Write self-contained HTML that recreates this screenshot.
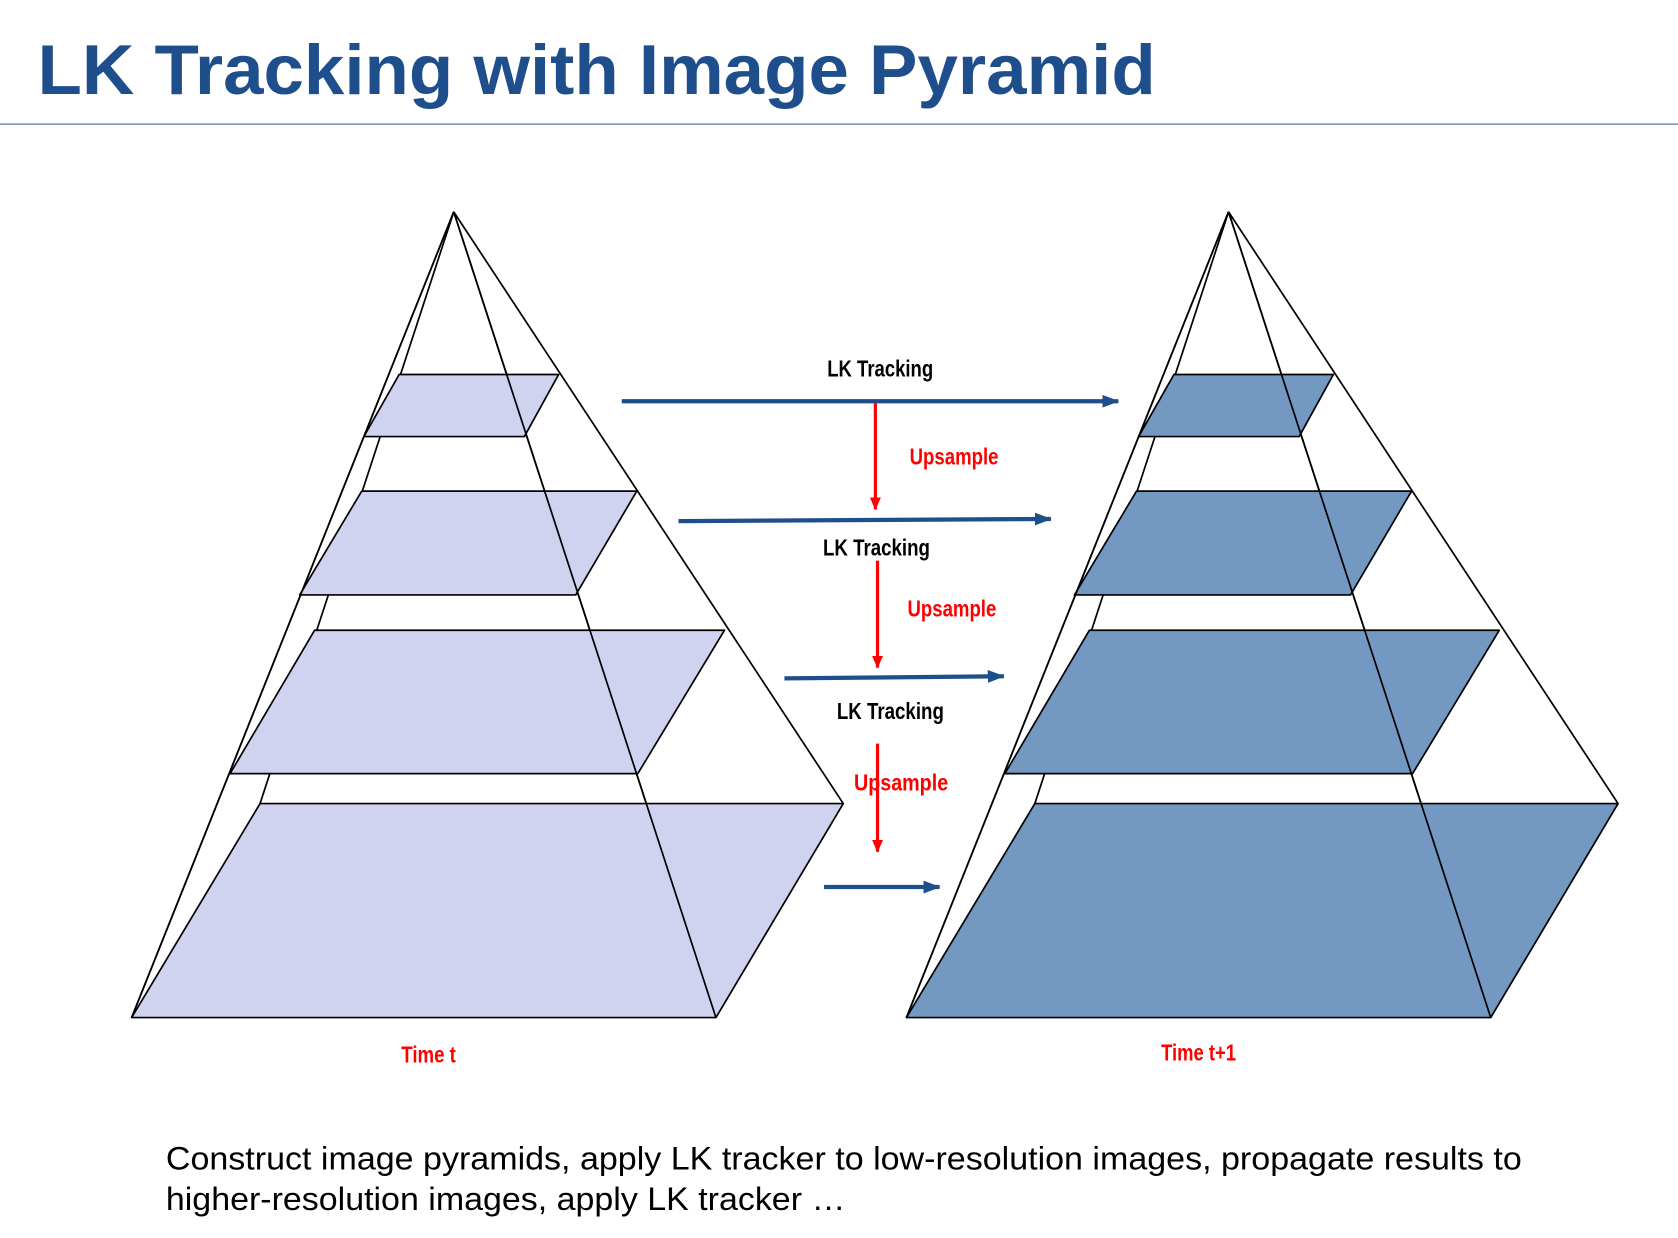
<!DOCTYPE html>
<html><head><meta charset="utf-8"><style>
html,body{margin:0;padding:0;background:#fff;}
svg{display:block;}
</style></head><body>
<svg width="1678" height="1238" viewBox="0 0 1568 1157" preserveAspectRatio="none" xmlns="http://www.w3.org/2000/svg">
<defs>
<marker id="ab" markerWidth="16" markerHeight="12" refX="15" refY="6" orient="auto" markerUnits="userSpaceOnUse" viewBox="0 0 16 12"><path d="M0,0 L16,6 L0,12 z" fill="#1f4e8c"/></marker>
<marker id="ar" markerWidth="12" markerHeight="14" refX="13" refY="6" orient="auto" markerUnits="userSpaceOnUse" viewBox="0 0 14 12"><path d="M0,0 L14,6 L0,12 z" fill="#ff0000"/></marker>
</defs>
<text x="35" y="88" font-family="Liberation Sans, sans-serif" font-weight="bold" font-size="66" fill="#1f4e8c" textLength="1045" lengthAdjust="spacingAndGlyphs">LK Tracking with Image Pyramid</text>
<line x1="0" y1="116" x2="1568" y2="116" stroke="#6d8fc7" stroke-width="1.5"/>

<g stroke="#000" stroke-width="1.6" stroke-linejoin="round">
<line x1="424" y1="198" x2="123" y2="951"/>
<line x1="424" y1="198" x2="669" y2="951"/>
<line x1="424" y1="198" x2="788" y2="751"/>
<line x1="424" y1="198" x2="243" y2="751"/>
<polygon points="123,951 669,951 788,751 243,751" fill="#d0d3ef"/>
<polygon points="215,723 596,723 677,589 294,589" fill="#d0d3ef"/>
<polygon points="280,556 538,556 595,459 338,459" fill="#d0d3ef"/>
<polygon points="340,408 490,408 522,350 373,350" fill="#d0d3ef"/>
<line x1="424" y1="198" x2="123" y2="951"/>
<line x1="424" y1="198" x2="669" y2="951"/>
</g>
<g stroke="#000" stroke-width="1.6" stroke-linejoin="round" transform="translate(724,0)">
<line x1="424" y1="198" x2="123" y2="951"/>
<line x1="424" y1="198" x2="669" y2="951"/>
<line x1="424" y1="198" x2="788" y2="751"/>
<line x1="424" y1="198" x2="243" y2="751"/>
<polygon points="123,951 669,951 788,751 243,751" fill="#7399c3"/>
<polygon points="215,723 596,723 677,589 294,589" fill="#7399c3"/>
<polygon points="280,556 538,556 595,459 338,459" fill="#7399c3"/>
<polygon points="340,408 490,408 522,350 373,350" fill="#7399c3"/>
<line x1="424" y1="198" x2="123" y2="951"/>
<line x1="424" y1="198" x2="669" y2="951"/>
</g>

<g stroke="#1f4e8c" stroke-width="4" fill="none">
<line x1="581" y1="375" x2="1045" y2="375" marker-end="url(#ab)"/>
<line x1="634" y1="487" x2="982" y2="485" marker-end="url(#ab)"/>
<line x1="733" y1="634" x2="938" y2="632" marker-end="url(#ab)"/>
<line x1="770" y1="829" x2="878" y2="829" marker-end="url(#ab)"/>
</g>
<g stroke="#ff0000" stroke-width="3" fill="none">
<line x1="818" y1="377" x2="818" y2="476" marker-end="url(#ar)"/>
<line x1="820" y1="524" x2="820" y2="624" marker-end="url(#ar)"/>
<line x1="820" y1="695" x2="820" y2="796" marker-end="url(#ar)"/>
</g>

<g font-family="Liberation Sans Narrow, Liberation Sans, sans-serif" font-weight="bold" font-size="22">
<text x="773" y="352" textLength="99" lengthAdjust="spacingAndGlyphs" fill="#000">LK Tracking</text>
<text x="769" y="519" textLength="100" lengthAdjust="spacingAndGlyphs" fill="#000">LK Tracking</text>
<text x="782" y="672" textLength="100" lengthAdjust="spacingAndGlyphs" fill="#000">LK Tracking</text>
<text x="850" y="434" textLength="83" lengthAdjust="spacingAndGlyphs" fill="#ff0000">Upsample</text>
<text x="848" y="576" textLength="83" lengthAdjust="spacingAndGlyphs" fill="#ff0000">Upsample</text>
<text x="798" y="739" textLength="88" lengthAdjust="spacingAndGlyphs" fill="#ff0000">Upsample</text>
<text x="375" y="993" textLength="51" lengthAdjust="spacingAndGlyphs" fill="#ff0000">Time t</text>
<text x="1085" y="991" textLength="70" lengthAdjust="spacingAndGlyphs" fill="#ff0000">Time t+1</text>
</g>

<g font-family="Liberation Sans, sans-serif" font-size="30" fill="#000">
<text x="155" y="1093" textLength="1267" lengthAdjust="spacingAndGlyphs">Construct image pyramids, apply LK tracker to low-resolution images, propagate results to</text>
<text x="155" y="1131" textLength="635" lengthAdjust="spacingAndGlyphs">higher-resolution images, apply LK tracker …</text>
</g>
</svg>
</body></html>
